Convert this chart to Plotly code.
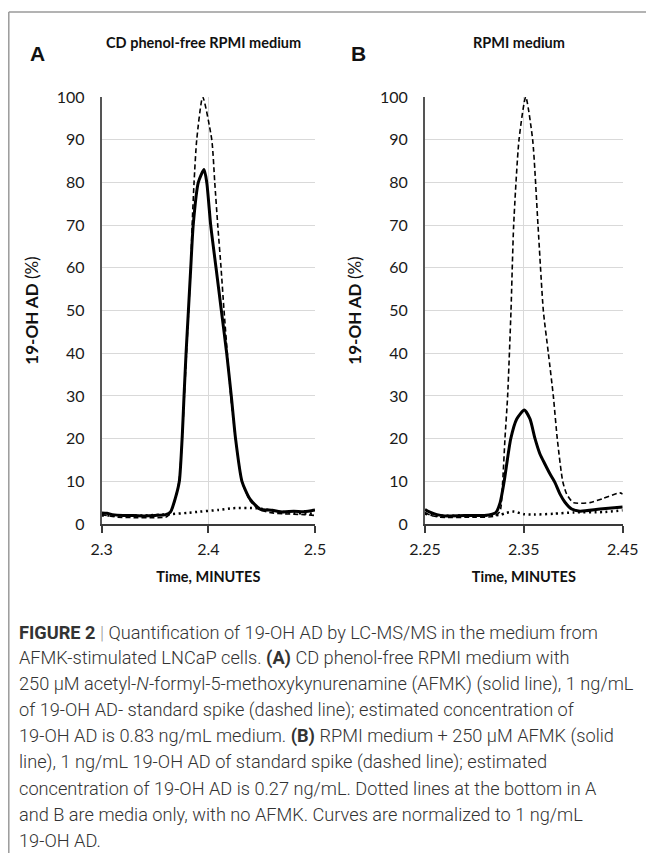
import plotly.graph_objects as go

# page size; the browser adds an 8px body margin, so the figure is 8px smaller
W, H = 654, 853
OFF = 8
FW, FH = W - OFF, H - OFF

# ---------------- data ----------------
# Panel A: CD phenol-free RPMI medium
a_solid_t = [2.300, 2.305, 2.310, 2.320, 2.330, 2.340, 2.350, 2.360, 2.3645, 2.369, 2.3728,
             2.3756, 2.3772, 2.3791, 2.3813, 2.3835, 2.3858, 2.3906, 2.396, 2.3985, 2.4022,
             2.4072, 2.4122, 2.4172, 2.4215, 2.4255, 2.4315, 2.4391, 2.4485, 2.460, 2.470,
             2.480, 2.490, 2.500]
a_solid_v = [2.6, 2.5, 2.2, 2.0, 2.0, 1.9, 2.0, 2.2, 2.8, 6, 10,
             21, 30, 40, 50, 60, 70, 80, 83, 80, 70,
             60, 50, 40, 30, 20, 10, 5.8, 3.5, 3.2, 2.8, 3.0, 2.9, 3.3]

a_dash_t = [2.300, 2.305, 2.315, 2.330, 2.345, 2.360, 2.364, 2.368, 2.3725, 2.3755, 2.3775,
            2.3795, 2.3815, 2.3835, 2.3848, 2.3866, 2.3891, 2.3947, 2.4032, 2.406, 2.4088,
            2.4119, 2.4147, 2.4178, 2.4210, 2.4255, 2.4315, 2.439, 2.448, 2.460, 2.470,
            2.480, 2.490, 2.500]
a_dash_v = [2.2, 2.0, 1.6, 1.5, 1.5, 1.6, 2.4, 5, 10, 20, 30,
            40, 50, 60, 70, 80, 90, 100, 90, 80, 70,
            60, 50, 40, 30, 20, 10, 5.5, 3.3, 2.6, 2.4, 2.3, 2.2, 2.0]

a_dot_t = [2.300, 2.320, 2.340, 2.364, 2.380, 2.392, 2.410, 2.423, 2.445, 2.464, 2.480, 2.500]
a_dot_v = [2.0, 2.0, 2.0, 2.3, 2.6, 2.9, 3.3, 3.7, 3.7, 3.0, 2.6, 2.4]

# Panel B: RPMI medium
b_solid_t = [2.250, 2.255, 2.262, 2.270, 2.290, 2.310, 2.318, 2.3218, 2.326, 2.3299, 2.3367,
             2.3428, 2.3505, 2.3562, 2.3613, 2.3663, 2.3714, 2.3765, 2.3815, 2.3866, 2.3916,
             2.3984, 2.4068, 2.427, 2.450]
b_solid_v = [3.4, 2.8, 2.2, 1.9, 2.0, 2.0, 2.3, 2.7, 5, 9.7, 19.9,
             24.6, 26.7, 24.6, 20, 16.4, 14, 11.7, 9.7, 7, 5.1,
             3.5, 3.0, 3.5, 4.0]

b_dash_t = [2.250, 2.256, 2.265, 2.300, 2.320, 2.3259, 2.3286, 2.3309, 2.3336, 2.337, 2.3397,
            2.3451, 2.3519, 2.3589, 2.3643, 2.3697, 2.3748, 2.3798, 2.3838, 2.3893, 2.3933,
            2.4001, 2.4169, 2.4304, 2.447, 2.450]
b_dash_v = [2.7, 2.0, 1.6, 1.6, 1.8, 3, 10, 20, 30, 50, 70,
            90, 100, 90, 70, 50, 40, 30, 20, 10, 7,
            5.0, 5.0, 6.0, 7.3, 7.0]

b_dot_t = [2.250, 2.260, 2.300, 2.325, 2.332, 2.340, 2.350, 2.360, 2.380, 2.400, 2.430, 2.450]
b_dot_v = [2.4, 2.0, 2.0, 2.1, 2.6, 2.9, 2.3, 2.2, 2.4, 2.7, 2.8, 3.2]

a_ticks = [2.3, 2.4, 2.5]
a_ticktext = ["2.3", "2.4", "2.5"]
b_ticks = [2.25, 2.35, 2.45]
b_ticktext = ["2.25", "2.35", "2.45"]

panel_letters = ["A", "B"]
panel_titles = ["CD phenol-free RPMI medium", "RPMI medium"]
x_title = "Time, MINUTES"
y_title = "<b>19-OH AD</b> (%)"

caption_lines = [
    "<b>FIGURE 2</b> <span style='color:#999'>|</span> Quantification of 19-OH AD by LC-MS/MS in the medium from",
    "AFMK-stimulated LNCaP cells. <b>(A)</b> CD phenol-free RPMI medium with",
    "250 μM acetyl-<i>N</i>-formyl-5-methoxykynurenamine (AFMK) (solid line), 1 ng/mL",
    "of 19-OH AD- standard spike (dashed line); estimated concentration of",
    "19-OH AD is 0.83 ng/mL medium. <b>(B)</b> RPMI medium + 250 μM AFMK (solid",
    "line), 1 ng/mL 19-OH AD of standard spike (dashed line); estimated",
    "concentration of 19-OH AD is 0.27 ng/mL. Dotted lines at the bottom in A",
    "and B are media only, with no AFMK. Curves are normalized to 1 ng/mL",
    "19-OH AD.",
]

# ---------------- helpers (page pixels -> paper fractions) ----------------
def fx(px):
    return (px - OFF) / FW

def fy(py):
    return 1 - (py - OFF) / FH

AX_FONT = "Lato, Carlito, Open Sans, sans-serif"
CAP_FONT = "Roboto, Liberation Sans, sans-serif"

fig = go.Figure()

def add_series(t, v, dash, width, xa, ya, name):
    fig.add_trace(go.Scatter(
        x=t, y=v, mode="lines", name=name, xaxis=xa, yaxis=ya,
        line=dict(color="black", width=width, dash=dash, shape="spline", smoothing=0.6),
        showlegend=False, hoverinfo="skip"))

add_series(a_dot_t, a_dot_v, "2px,3.5px", 2.5, "x", "y", "media only")
add_series(a_dash_t, a_dash_v, "5px,3px", 1.6, "x", "y", "standard spike")
add_series(a_solid_t, a_solid_v, "solid", 3, "x", "y", "AFMK")
add_series(b_dot_t, b_dot_v, "2px,3.5px", 2.5, "x2", "y2", "media only")
add_series(b_dash_t, b_dash_v, "5px,3px", 1.6, "x2", "y2", "standard spike")
add_series(b_solid_t, b_solid_v, "solid", 3, "x2", "y2", "AFMK")

ydom = [fy(524), fy(97)]

xcommon = dict(showgrid=True, gridcolor="#d9d9d9", gridwidth=1,
               showline=True, linecolor="#3a3a3a", linewidth=1.5,
               ticks="outside", ticklen=7, tickcolor="#3a3a3a", tickwidth=1.5,
               zeroline=False, automargin=False, ticklabelstandoff=3,
               tickfont=dict(family=AX_FONT, size=16, color="#1a1a1a"),
               title=dict(text="<b>" + x_title + "</b>", standoff=15,
                          font=dict(family=AX_FONT, size=14.5, color="#111")))
ycommon = dict(range=[0, 100], dtick=10, tick0=0, showgrid=True, gridcolor="#d9d9d9",
               gridwidth=1, showline=True, linecolor="#555", linewidth=2,
               ticks="", zeroline=False, automargin=False, ticklabelstandoff=12,
               tickfont=dict(family=AX_FONT, size=16, color="#1a1a1a"),
               title=dict(text=y_title, standoff=14,
                          font=dict(family=AX_FONT, size=17, color="#111")))

fig.update_layout(
    width=FW, height=FH,
    margin=dict(l=0, r=0, t=0, b=0),
    paper_bgcolor="white", plot_bgcolor="white",
    xaxis=dict(domain=[fx(101.7), fx(315)], range=[2.3, 2.5],
               tickvals=a_ticks, ticktext=a_ticktext, anchor="y", **xcommon),
    yaxis=dict(domain=ydom, anchor="x", **ycommon),
    xaxis2=dict(domain=[fx(425), fx(622.7)], range=[2.25, 2.45],
                tickvals=b_ticks, ticktext=b_ticktext, anchor="y2", **xcommon),
    yaxis2=dict(domain=ydom, anchor="x2", **ycommon),
)

ann = []
ann.append(dict(x=fx(37), y=fy(53), text="<b>" + panel_letters[0] + "</b>",
                font=dict(family="Liberation Sans, Arial, sans-serif", size=21, color="#111")))
ann.append(dict(x=fx(359), y=fy(53), text="<b>" + panel_letters[1] + "</b>",
                font=dict(family="Liberation Sans, Arial, sans-serif", size=21, color="#111")))
ann.append(dict(x=fx(203), y=fy(43), text="<b>" + panel_titles[0] + "</b>",
                font=dict(family=AX_FONT, size=14.5, color="#111")))
ann.append(dict(x=fx(519), y=fy(43), text="<b>" + panel_titles[1] + "</b>",
                font=dict(family=AX_FONT, size=14.5, color="#111")))
for a in ann:
    a.update(xref="paper", yref="paper", showarrow=False, xanchor="center", yanchor="middle")

for i, line in enumerate(caption_lines):
    ann.append(dict(x=fx(17), y=fy(632 + 26 * i), text=line, xref="paper", yref="paper",
                    showarrow=False, xanchor="left", yanchor="middle",
                    font=dict(family=CAP_FONT, size=18.2, color="#333", weight=300)))
fig.update_layout(annotations=ann)

# outer frame (top and left edges)
fig.add_shape(type="line", xref="paper", yref="paper", x0=fx(8.8), x1=1.0, y0=fy(12), y1=fy(12),
              line=dict(color="#9a9a9a", width=1.5))
fig.add_shape(type="line", xref="paper", yref="paper", x0=fx(8.8), x1=fx(8.8), y0=fy(12), y1=0,
              line=dict(color="#9a9a9a", width=1.5))

fig.write_html("out.html")
